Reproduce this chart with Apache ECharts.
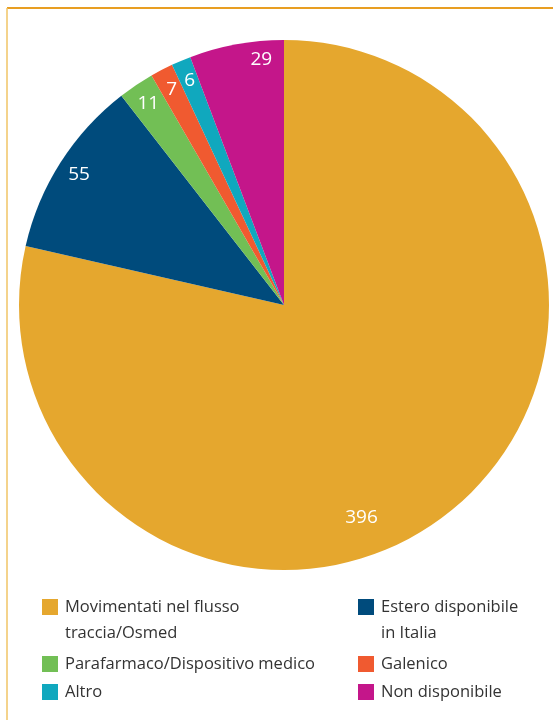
<!DOCTYPE html>
<html>
<head>
<meta charset="utf-8">
<script src="https://cdn.jsdelivr.net/npm/echarts@6/dist/echarts.min.js"></script>
<style>html,body{margin:0;padding:0;background:#fff}#c{width:553px;height:720px}</style>
</head>
<body>
<div id="c"></div>
<script>
const categories = ['Movimentati nel flusso traccia/Osmed', 'Estero disponibile in Italia', 'Parafarmaco/Dispositivo medico', 'Galenico', 'Altro', 'Non disponibile'];
const legendLines = [['Movimentati nel flusso', 'traccia/Osmed'], ['Estero disponibile', 'in Italia'], ['Parafarmaco/Dispositivo medico'], ['Galenico'], ['Altro'], ['Non disponibile']];
const values = [396, 55, 11, 7, 6, 29];
const colors = ['#E5A72E', '#004B7C', '#72BF55', '#F05A30', '#10A8BE', '#C4168A'];

const FONT = '"Open Sans", "Liberation Sans", Arial, sans-serif';
const chart = echarts.init(document.getElementById('c'), null, {renderer: 'canvas'});

const labelOffsets = {0: [-74, 23], 5: [21, -6]};
const pieData = categories.map((n, i) => ({name: n, value: values[i], itemStyle: {color: colors[i]}}));
const labelData = categories.map((n, i) => ({
  name: n, value: values[i],
  label: labelOffsets[i] ? {offset: labelOffsets[i]} : {}
}));

// legend positions: [left, iconCenterY]
const legendPos = [[42, 607], [358, 607], [42, 664], [358, 664], [42, 692], [358, 692]];
const legends = categories.map((n, i) => {
  const lines = legendLines[i];
  const multi = lines.length > 1;
  const lh = 26;
  const top = multi ? legendPos[i][1] - lh * 1.5 : legendPos[i][1] - lh / 2;
  return {
    data: [n], left: legendPos[i][0], top: top, orient: 'horizontal',
    itemWidth: 16, itemHeight: 16, itemGap: 0, padding: 0, selectedMode: false,
    icon: 'rect',
    formatter: () => multi ? ' \n' + lines.join('\n') : lines[0],
    textStyle: {fontFamily: FONT, fontSize: 16.5, color: '#333333', lineHeight: lh, padding: [0, 0, 0, 2]}
  };
});

chart.setOption({
  backgroundColor: '#ffffff',
  animation: false,
  legend: legends,
  graphic: [
    {type: 'line', shape: {x1: 7, y1: 8, x2: 553, y2: 8}, style: {stroke: '#E89E22', lineWidth: 2}},
    {type: 'line', shape: {x1: 7, y1: 8, x2: 7, y2: 720}, style: {stroke: '#F1C466', lineWidth: 1.5}}
  ],
  series: [
    {
      type: 'pie', center: [284, 305], radius: [0, 265], startAngle: 90, clockwise: true,
      silent: true, label: {show: false}, labelLine: {show: false},
      data: pieData
    },
    {
      type: 'pie', center: [284, 305], radius: [215, 265], startAngle: 90, clockwise: true,
      silent: true, itemStyle: {color: 'rgba(0,0,0,0)'},
      label: {show: true, position: 'inside', formatter: '{c}', color: '#ffffff', fontFamily: FONT, fontSize: 19},
      labelLine: {show: false},
      data: labelData
    }
  ]
});
</script>
</body>
</html>
